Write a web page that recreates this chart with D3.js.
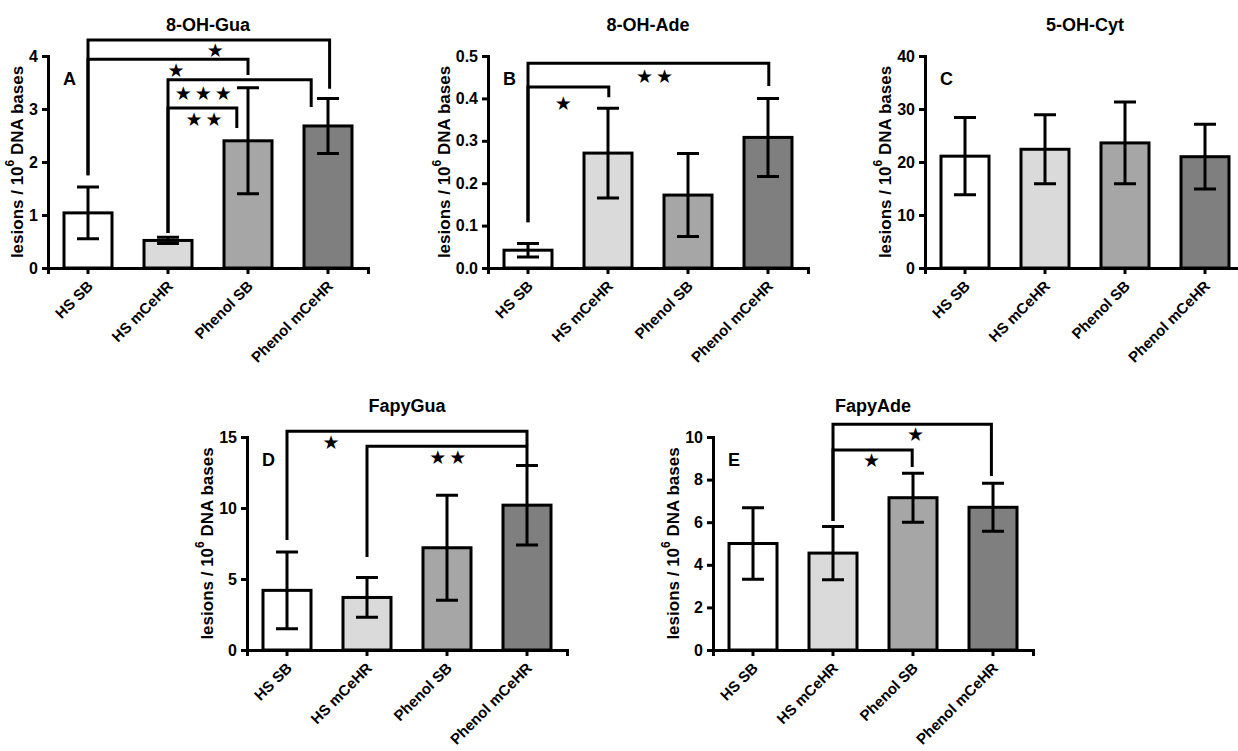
<!DOCTYPE html>
<html>
<head>
<meta charset="utf-8">
<script src="https://cdn.jsdelivr.net/npm/d3@7/dist/d3.min.js"></script>
<style>
  html, body { margin: 0; padding: 0; background: #ffffff; }
  svg { display: block; }
  text { font-family: "Liberation Sans", Arial, sans-serif; font-weight: bold; fill: #000; }
</style>
</head>
<body>
<svg id="chart" width="1238" height="751"></svg>
<script>
// ---------------- data ----------------
const categories = ["HS SB", "HS mCeHR", "Phenol SB", "Phenol mCeHR"];
const panelTitles = ["8-OH-Gua", "8-OH-Ade", "5-OH-Cyt", "FapyGua", "FapyAde"];
const panelLetters = ["A", "B", "C", "D", "E"];

const gua8Mean = [1.04, 0.52, 2.40, 2.68];
const gua8Sd   = [0.49, 0.06, 1.00, 0.52];
const ade8Mean = [0.042, 0.271, 0.172, 0.308];
const ade8Sd   = [0.016, 0.106, 0.098, 0.092];
const cyt5Mean = [21.1, 22.4, 23.6, 21.0];
const cyt5Sd   = [7.3, 6.5, 7.7, 6.1];
const fapyGuaMean = [4.2, 3.7, 7.2, 10.2];
const fapyGuaSd   = [2.7, 1.4, 3.7, 2.8];
const fapyAdeMean = [5.0, 4.55, 7.15, 6.7];
const fapyAdeSd   = [1.68, 1.25, 1.15, 1.13];

const yMaxes = [4, 0.5, 40, 15, 10];
const yTickValues = [
  [0, 1, 2, 3, 4],
  [0, 0.1, 0.2, 0.3, 0.4, 0.5],
  [0, 10, 20, 30, 40],
  [0, 5, 10, 15],
  [0, 2, 4, 6, 8, 10]
];
const yTickFormats = ["d", ".1f", "d", "d", "d"];

// significance brackets: [fromIdx, toIdx, lineValue, leftLegBottom, rightLegBottom, nStars, starIdx, starValue]
const bracketsA = [
  [0, 3.02, 4.30, 1.75, 3.38, 1, 1.59, 4.11],
  [0, 2.0, 3.94, 1.75, 3.64, 1, 1.10, 3.74],
  [1, 2.79, 3.55, 0.66, 3.04, 3, 1.44, 3.30],
  [1, 1.86, 3.02, 0.66, 2.64, 2, 1.45, 2.81]
];
const bracketsB = [
  [0, 3.01, 0.483, 0.108, 0.429, 2, 1.58, 0.453],
  [0, 1.01, 0.427, 0.108, 0.403, 1, 0.44, 0.389]
];
const bracketsC = [];
const bracketsD = [
  [0, 3.0, 15.4, 7.75, 14.4, 1, 0.55, 14.65],
  [1, 3.0, 14.35, 6.55, 12.9, 2, 2.01, 13.6]
];
const bracketsE = [
  [1, 2.98, 10.6, 6.06, 8.17, 1, 2.03, 10.14],
  [1, 1.99, 9.39, 6.06, 8.59, 1, 1.48, 8.92]
];

const barColors = ["#ffffff", "#dadada", "#a6a6a6", "#7f7f7f"];

const panelMeans = [gua8Mean, ade8Mean, cyt5Mean, fapyGuaMean, fapyAdeMean];
const panelSds = [gua8Sd, ade8Sd, cyt5Sd, fapyGuaSd, fapyAdeSd];
const panelBrackets = [bracketsA, bracketsB, bracketsC, bracketsD, bracketsE];

// ---------------- layout ----------------
const layout = [
  { x: 48,  top: 56,  bottom: 268 },
  { x: 488, top: 56,  bottom: 268 },
  { x: 925, top: 56,  bottom: 268 },
  { x: 247, top: 437, bottom: 650 },
  { x: 713, top: 437, bottom: 650 }
];
const plotWidth = 320;
const SW = 3; // stroke width

const svg = d3.select("#chart");

panelTitles.forEach((title, p) => {
  const L = layout[p];
  const g = svg.append("g").attr("transform", `translate(${L.x},0)`);

  const x = d3.scaleBand().domain(categories).range([0, plotWidth])
    .paddingInner(0.4).paddingOuter(0.2);
  const y = d3.scaleLinear().domain([0, yMaxes[p]]).range([L.bottom, L.top]);
  const xi = i => x(categories[0]) + x.bandwidth() / 2 + i * x.step();

  const means = panelMeans[p], sds = panelSds[p];

  // bars
  g.selectAll("rect.bar").data(means).join("rect")
    .attr("class", "bar")
    .attr("x", (d, i) => x(categories[i]))
    .attr("width", x.bandwidth())
    .attr("y", d => y(d))
    .attr("height", d => y(0) - y(d))
    .attr("fill", (d, i) => barColors[i])
    .attr("stroke", "#000").attr("stroke-width", SW);

  // error bars
  const capW = 22;
  const eb = g.selectAll("g.err").data(means).join("g").attr("class", "err");
  eb.append("path")
    .attr("d", (d, i) => {
      const cx = xi(i), hi = y(d + sds[i]), lo = y(d - sds[i]);
      return `M${cx},${hi}V${lo}M${cx - capW / 2},${hi}H${cx + capW / 2}M${cx - capW / 2},${lo}H${cx + capW / 2}`;
    })
    .attr("fill", "none").attr("stroke", "#000").attr("stroke-width", SW);

  // axes
  const yAxis = g.append("g").attr("class", "yaxis")
    .call(d3.axisLeft(y).tickValues(yTickValues[p]).tickFormat(d3.format(yTickFormats[p])).tickSizeOuter(0).tickSize(6).tickPadding(4));
  yAxis.select(".domain").attr("stroke-width", SW);
  yAxis.selectAll(".tick line").attr("stroke-width", SW);
  yAxis.selectAll(".tick text").style("font-size", "16px").style("font-family", "'Liberation Sans', Arial, sans-serif").style("font-weight", "bold");

  const xAxis = g.append("g").attr("transform", `translate(0,${L.bottom})`)
    .call(d3.axisBottom(x).tickSizeOuter(0).tickSize(6));
  xAxis.select(".domain").attr("stroke-width", SW);
  xAxis.selectAll(".tick line").attr("stroke-width", SW);
  xAxis.selectAll(".tick text")
    .attr("x", 0).attr("y", 0).attr("dy", 0)
    .attr("transform", "translate(6,19) rotate(-45)")
    .style("text-anchor", "end")
    .style("font-size", "15px").style("font-family", "'Liberation Sans', Arial, sans-serif").style("font-weight", "bold");

  // y label
  const bb = yAxis.node().getBBox();
  const ly = (L.top + L.bottom) / 2;
  const lx = bb.x - 12;
  const lab = g.append("text")
    .attr("transform", `translate(${lx},${ly}) rotate(-90)`)
    .attr("text-anchor", "middle")
    .attr("dominant-baseline", "central")
    .style("font-size", "17px");
  lab.append("tspan").text("lesions / 10");
  lab.append("tspan").text("6").attr("dy", -7).style("font-size", "12px");
  lab.append("tspan").text(" DNA bases").attr("dy", 7);

  // title
  const barsMid = (x(categories[0]) + x(categories[3]) + x.bandwidth()) / 2;
  g.append("text").attr("x", barsMid).attr("y", L.top - 25)
    .attr("text-anchor", "middle").style("font-size", "18px").text(title);

  // panel letter
  g.append("text").attr("x", 15).attr("y", L.top + 29)
    .style("font-size", "18px").text(panelLetters[p]);

  // brackets
  panelBrackets[p].forEach(b => {
    const [fi, ti, lv, lb, rb, ns, si, sv] = b;
    g.append("path")
      .attr("d", `M${xi(fi)},${y(lb)}V${y(lv)}H${xi(ti)}V${y(rb)}`)
      .attr("fill", "none").attr("stroke", "#000").attr("stroke-width", SW)
      .attr("stroke-linejoin", "miter");
    for (let k = 0; k < ns; k++) {
      g.append("text")
        .attr("x", xi(si) + (k - (ns - 1) / 2) * 20)
        .attr("y", y(sv))
        .attr("text-anchor", "middle")
        .attr("dominant-baseline", "central")
        .style("font-family", "'DejaVu Sans', sans-serif")
        .style("font-weight", "normal")
        .style("font-size", "19px")
        .text("\u2605");
    }
  });
});
</script>
</body>
</html>
